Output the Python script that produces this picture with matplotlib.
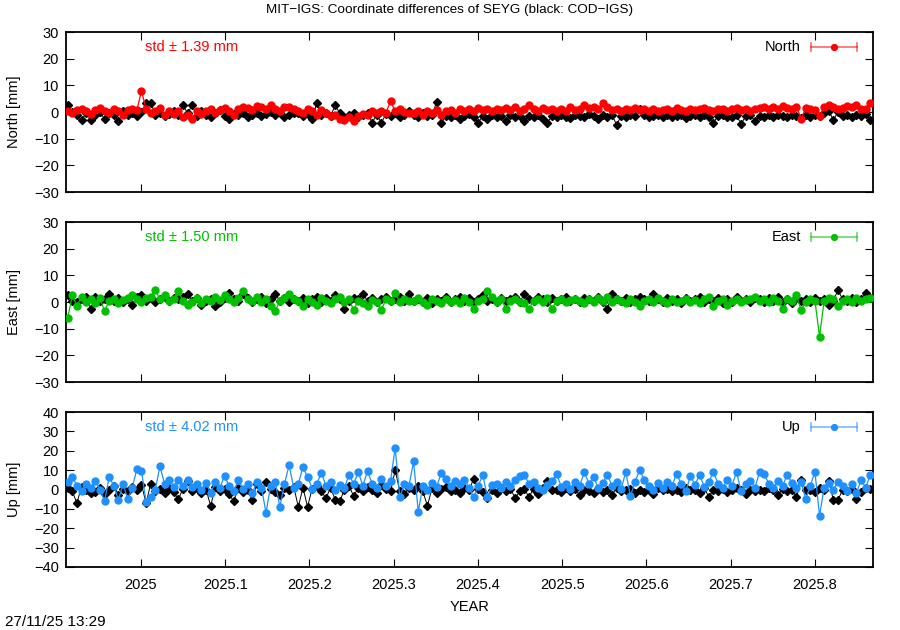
import numpy as np
import matplotlib
matplotlib.use("Agg")
import matplotlib.pyplot as plt
from matplotlib.lines import Line2D

plt.rcParams['font.family'] = ['Liberation Sans', 'DejaVu Sans']

# ---------------- data ----------------
t_start = 2024.913
t_step = 2 / 365.25
n_pts = 175
years = t_start + t_step * np.arange(n_pts)

north_mit = [
    0.5, -0.5, 0.8, 1.2, 0.3, -0.8, 0.6, 1.5, 0.2, -0.5, 1.0, 0.4, -1.0, 0.8, 1.2, 0.6, 8.0, 1.0, -0.5, 0.3, 1.5, -1.2, 0.4, -0.8, 0.2,
    -2.0, -1.0, -2.5, 0.5, -0.8, 0.3, 1.0, -0.5, 0.8, 1.5, 0.5, -1.0, 1.2, 2.0, 1.5, 0.8, 2.2, 1.8, 1.0, 2.5, 1.2, 0.5, 1.8, 2.0, 1.0,
    0.5, -0.5, 1.0, 0.2, -1.0, 0.8, -0.5, -1.5, -1.0, -2.5, -3.0, -2.0, -3.2, -1.5, -0.8, -1.2, 0.3, -0.5, 0.5, -0.2, 4.0, 0.3, 1.0, 0.0, -0.5,
    -0.5, 0.3, -1.0, 0.5, -0.3, 0.8, -1.2, 0.2, 0.6, -0.5, 1.0, 0.4, 1.2, 0.5, 1.5, 0.8, 1.0, 0.3, 1.2, 0.6, 1.5, 0.9, 2.0, 0.5, 1.2,
    2.5, 1.0, 0.5, 1.5, 0.8, 1.2, 0.3, 1.0, 0.5, 1.8, 0.6, 1.0, 2.5, 1.5, 2.0, 1.2, 3.5, 1.8, 0.8, 1.2, 0.5, 1.0, 0.8, 1.5, 0.6,
    1.0, 0.5, 1.2, 0.3, 0.8, 1.0, 0.5, 1.5, 0.8, 0.4, 1.2, 0.6, 1.0, 1.5, 0.8, 0.5, 1.2, 1.0, 0.3, 1.0, 1.5, 0.8, 1.2, 0.5, 1.0,
    1.5, 2.0, 1.0, 1.8, 1.2, 2.2, 1.5, 1.0, 2.0, -2.5, 1.5, 1.2, 0.8, -1.5, 1.8, 2.5, 2.0, 1.0, 1.5, 2.2, 1.8, 2.5, 1.2, 1.0, 3.5,
]
north_cod = [
    2.5, 0.0, -1.0, -3.0, -0.5, -3.0, -1.0, 0.0, -2.7, -0.5, -1.2, -3.5, 0.2, -1.0, -0.5, -1.5, 0.0, 3.5, 3.5, -1.0, -0.3, -1.5, -0.8, 0.5, -1.0,
    2.5, -0.5, 2.5, -1.5, 0.5, -1.0, -2.0, -0.5, 0.8, -1.5, -2.7, -0.8, -1.2, -0.5, -2.0, -1.0, -0.3, -1.5, -0.8, 0.0, -1.2, -0.5, -2.0, -1.0, -0.5,
    -0.5, -1.5, -0.8, -2.7, 3.5, -1.0, -0.3, -1.5, 2.5, -0.5, -1.8, -1.0, -0.5, -2.0, -1.2, -0.5, -4.0, -1.0, -4.0, -0.8, -1.5, -0.3, -2.0, -1.0, 0.3,
    -1.0, -2.0, -0.5, -1.5, -1.0, 3.8, -4.0, -1.5, -2.0, -1.0, -2.5, -1.5, -0.8, -2.0, -4.0, -1.5, -2.5, -1.0, -2.0, -1.5, -3.5, -1.0, -2.0, -1.5, -3.5,
    -1.5, -2.0, -1.0, -2.5, -4.0, -1.5, -2.0, -1.0, -1.8, -2.2, -1.0, -1.5, -2.0, -0.8, -1.5, -2.5, -1.2, -1.8, -1.0, -4.8, -1.5, -2.0, -1.0, -1.5, 1.0,
    -1.0, -2.0, -1.5, -1.0, -1.8, -1.2, -2.0, -1.5, -1.0, -2.2, -1.5, -1.0, -1.8, -1.2, -2.0, -4.0, -1.5, -1.0, -1.8, -2.0, -1.2, -4.5, -1.5, -1.0, -3.5,
    -1.5, -2.0, -1.0, -1.8, -1.2, -1.5, -2.0, -1.0, -1.5, -2.2, -1.0, -1.8, -1.2, -1.5, -0.5, 0.5, -3.0, 0.0, -1.5, -1.0, -2.0, -1.2, -1.5, -0.8, -3.0,
]
east_mit = [
    -6.0, 2.5, -1.5, 2.0, 0.0, 1.0, -0.5, 1.5, -3.5, 0.5, 1.0, -0.5, 0.8, 1.5, 2.5, 1.0, 0.0, 1.5, 2.0, 4.5, 1.0, 2.5, 0.5, 1.2, 4.0,
    0.5, -1.0, 0.0, 1.5, -0.5, 1.0, 0.5, 2.0, 0.8, 2.5, 1.0, 0.0, 1.5, 4.0, 1.2, 0.5, 1.8, 0.0, 1.0, -1.5, -3.5, 0.5, 1.5, 3.0, 1.2,
    0.5, -1.5, 1.0, 0.0, -1.0, 1.5, 0.5, -0.5, 1.0, 2.0, 0.0, 1.0, -3.0, 0.5, -0.5, -1.5, 0.8, 0.0, -3.0, 1.0, 0.5, 3.5, 0.0, 1.2, 0.5,
    0.5, 1.5, 0.0, -1.0, 1.0, 0.5, -0.5, 1.2, 0.0, 0.8, -0.5, 1.5, 0.0, -2.5, 0.5, 1.0, 4.0, 2.0, 0.0, 1.0, -2.5, 0.5, 1.0, 0.0, -0.5,
    -2.5, 0.5, 1.0, 0.0, 1.5, -2.5, 0.5, 1.0, 0.0, 0.8, 1.2, 0.5, -0.5, 1.0, 0.0, 1.5, 0.5, 2.0, 0.0, 1.0, 0.5, -0.5, 1.0, 0.0, -1.5,
    0.5, 1.0, 0.0, 1.5, 0.5, -0.5, 1.0, 0.0, 0.5, 1.2, 0.0, 0.8, -0.5, 1.0, 2.0, -1.5, 0.5, 1.0, -1.0, 0.5, 1.0, 0.0, 0.8, 1.0, 2.0,
    0.5, 1.0, 0.0, 1.5, 0.5, -2.5, 1.0, 0.5, 2.5, -3.0, 0.0, 1.0, 0.5, -13.0, 0.5, 1.5, 1.0, -1.5, 0.5, 1.0, 0.0, 1.5, 0.5, 1.0, 1.5,
]
east_cod = [
    2.5, 0.5, 0.0, 1.0, 2.0, -2.5, 2.0, 0.5, 1.0, 3.0, 0.5, 1.5, 0.0, 1.0, -1.0, 2.0, 2.5, 0.5, 1.5, 0.0, 1.0, 2.0, 0.5, 1.5, 1.0,
    2.0, 3.0, 0.5, 1.5, -1.0, 0.5, 1.0, -1.5, 0.0, 1.5, 3.5, 1.0, 0.5, 3.0, 1.5, 0.0, 1.0, 2.0, -0.5, 1.0, 3.0, 0.5, 1.5, 0.0, 1.0,
    0.5, 1.5, -0.5, 1.0, 2.0, 0.0, 1.5, 0.5, 2.5, 1.0, -2.5, 0.5, 1.5, 1.0, 3.0, 0.5, 1.5, 0.0, 1.0, 2.0, 0.5, 1.0, 2.0, 0.5, 3.0,
    0.5, 1.0, 0.0, 1.5, -0.5, 1.0, 0.5, 2.0, 0.0, 1.0, 2.0, 0.5, 1.5, 0.0, 1.0, 2.5, 0.5, 1.0, 0.0, 1.5, 0.5, 1.0, 2.0, 0.0, 3.0,
    1.0, 0.5, 2.0, 1.0, 0.0, 1.5, 0.5, 1.0, 2.0, 0.5, 1.0, 0.0, 1.5, 1.0, 0.5, 2.0, 0.0, -2.5, 3.0, 1.0, 0.5, 1.5, 0.0, 1.0, 2.0,
    1.0, 0.5, 3.0, 1.0, 0.0, 1.5, 0.5, 1.0, -0.5, 1.5, 0.5, 1.0, 2.0, 0.0, 1.0, 0.5, 1.5, -0.5, 1.0, 0.0, 2.0, 0.5, 1.0, 0.0, 1.5,
    1.0, 0.0, 1.5, 0.5, 2.0, 0.0, 1.0, -0.5, 1.5, 0.5, 1.0, 0.0, 1.5, 0.5, 1.0, -1.0, 0.5, 4.5, 1.0, 0.5, 1.5, 0.0, 1.0, 3.5, 1.5,
]
up_mit = [
    4.0, 6.5, 2.0, -1.0, 3.0, 1.0, 4.5, 0.0, -6.0, 6.5, 2.0, -5.5, 3.0, -5.0, 1.0, 10.5, 9.5, -6.5, -4.0, 0.0, 12.0, 3.0, 5.0, 1.5, 5.0,
    2.0, 5.0, 1.5, 3.0, 0.0, 3.5, -2.0, 4.0, 1.0, 7.0, 2.0, -1.0, 5.0, 0.5, 3.0, -2.0, 4.0, 1.0, -12.0, 2.0, 4.0, -9.0, 3.0, 12.5, 1.0,
    3.0, 11.5, 6.5, 0.5, 3.0, 8.5, 2.0, 4.0, 0.0, 2.5, 1.0, 7.5, 3.0, 9.0, 2.0, 9.5, 3.0, 1.0, 5.5, 2.0, 4.5, 21.5, -4.0, 3.0, 2.0,
    14.5, -11.5, 2.0, 0.0, 3.5, 1.5, 8.5, 5.5, 2.0, 4.5, 3.0, 5.0, 1.0, -4.0, 2.0, 7.5, -4.0, 2.5, 3.0, 1.0, 4.0, 2.0, 5.0, 7.0, 7.5,
    3.0, 4.0, 1.0, 0.0, 2.5, 4.5, 8.0, 1.5, 3.0, 0.5, 4.0, 2.0, 9.0, 3.0, 6.5, 1.0, 3.5, 7.5, 2.0, 4.0, 0.5, 9.0, -3.5, 4.0, 10.0,
    5.0, 2.0, 0.0, 3.5, 1.0, 4.0, 2.0, 8.0, 3.0, -1.0, 7.0, 2.5, 7.5, 1.5, 4.0, 9.0, 3.0, 1.0, 5.0, 2.0, 9.0, -1.0, 3.0, 4.5, 1.0,
    9.0, 8.0, 3.0, 1.0, 4.5, 2.0, 7.5, 3.5, 1.0, 4.0, -5.0, 2.0, 9.0, -13.5, 1.0, 3.5, 0.0, 4.0, 2.0, -1.0, 3.0, -2.0, 5.0, 1.0, 7.5,
]
up_cod = [
    1.0, -1.0, -7.0, 1.5, 0.0, -2.0, -1.5, 1.0, -2.5, 0.0, 2.0, -2.8, 0.5, -1.0, 1.5, -0.5, 2.5, -7.0, 3.0, -1.0, 0.5, -2.0, 1.0, -1.5, -5.0,
    0.5, 4.5, -1.0, 1.0, -2.0, 0.0, -8.5, 1.5, -1.0, 0.5, -2.5, -6.0, 1.0, -1.5, 0.0, -5.5, 3.0, -1.0, 4.0, 0.5, -1.5, -3.0, 1.0, -0.5, 1.5,
    -9.0, 1.0, -9.0, 0.5, 2.0, -1.0, -4.5, 1.0, -5.5, -6.0, 0.0, 2.0, -3.5, 1.0, -1.0, 1.5, 0.0, -2.0, 2.5, 0.5, -1.0, 10.0, -1.0, -2.5, 1.0,
    0.0, 2.0, -1.0, -8.5, 1.0, -2.0, 0.5, 1.5, -1.0, 0.0, -2.0, 1.0, -0.5, 5.5, 0.5, -1.5, -4.5, 0.0, -2.0, 1.0, -1.0, 0.5, -4.5, -1.0, 0.5,
    -4.0, 0.5, -2.5, 1.0, 4.5, -0.5, 0.0, -1.5, 1.0, -1.0, 0.5, -3.0, 0.0, -1.0, -2.0, 0.5, -1.5, 0.0, -3.0, 1.0, -1.0, -0.5, 0.5, -2.0, 0.0,
    -1.5, 0.0, -2.5, 1.0, -0.5, 0.5, -1.0, 0.0, -1.5, 1.0, -0.5, 0.0, -2.0, 1.0, -4.0, 0.0, -1.0, 0.5, -1.5, 0.0, 1.0, -0.5, -2.5, 0.0, -1.0,
    0.0, -1.0, 1.0, 0.0, -3.0, 0.5, -1.0, 0.0, -4.0, 5.0, -0.5, 0.0, -1.5, 1.0, 0.0, 4.5, -5.5, -5.5, 0.0, -1.0, 0.5, -5.0, -1.5, 1.0, 0.5,
]

components = ["North", "East", "Up"]
std_texts = ["std \u00b1 1.39 mm", "std \u00b1 1.50 mm", "std \u00b1 4.02 mm"]
colors = ["#ff0000", "#00c000", "#1e90ff"]
ylims = [(-30, 30), (-30, 30), (-40, 40)]
yticks_list = [np.arange(-30, 31, 10), np.arange(-30, 31, 10), np.arange(-40, 41, 10)]
mit_series = [north_mit, east_mit, up_mit]
cod_series = [north_cod, east_cod, up_cod]
xticks = [2025.0, 2025.1, 2025.2, 2025.3, 2025.4, 2025.5, 2025.6, 2025.7, 2025.8]
xtick_labels = ["2025", "2025.1", "2025.2", "2025.3", "2025.4", "2025.5", "2025.6", "2025.7", "2025.8"]
xlim = (2024.911, 2025.869)

# ---------------- figure ----------------
fig = plt.figure(figsize=(9, 6.3), dpi=100)
W, H = 900, 630
boxes = [(32, 192), (222, 382), (412, 567)]
left_px, right_px = 66, 873
FS = 10.5

fig.text(0.5, 1 - 10 / H, "MIT\u2212IGS: Coordinate differences of SEYG (black: COD\u2212IGS)",
         ha="center", va="center", fontsize=9.7)

for k in range(3):
    top, bot = boxes[k]
    ax = fig.add_axes([left_px / W, 1 - bot / H, (right_px - left_px) / W, (bot - top) / H])
    ax.plot(years, cod_series[k], color="black", lw=0.7, marker="D", ms=4.4,
            mfc="black", mec="black", zorder=2)
    ax.plot(years, mit_series[k], color=colors[k], lw=0.9, marker="o", ms=5.0,
            mfc=colors[k], mec=colors[k], zorder=3)
    ax.set_xlim(*xlim)
    ax.set_ylim(*ylims[k])
    ax.set_yticks(yticks_list[k])
    ax.set_xticks(xticks)
    if k == 2:
        ax.set_xticklabels(xtick_labels)
        ax.set_xlabel("YEAR", fontsize=FS, labelpad=6)
    else:
        ax.set_xticklabels([])
    ax.tick_params(axis="both", direction="in", length=6, width=0.8, labelsize=FS,
                   top=True, right=True, pad=5)
    ax.tick_params(axis="x", pad=8)
    for sp in ax.spines.values():
        sp.set_linewidth(1.3)
    ax.set_ylabel(f"{components[k]} [mm]", fontsize=FS)
    ax.yaxis.set_label_coords(-45 / (right_px - left_px), 0.5)

    # std annotation
    yk = 1 - 15 / (bot - top)
    ax.text((145 - left_px) / (right_px - left_px), yk, std_texts[k],
            transform=ax.transAxes, color=colors[k], fontsize=FS, ha="left", va="center")
    # key
    ax.text((801 - left_px) / (right_px - left_px), yk, components[k],
            transform=ax.transAxes, fontsize=FS, ha="right", va="center")
    x0 = (811 - left_px) / (right_px - left_px)
    x1 = (857 - left_px) / (right_px - left_px)
    xm = (x0 + x1) / 2
    cap = 4 / (bot - top)
    ax.add_line(Line2D([x0, x1], [yk, yk], transform=ax.transAxes, color=colors[k], lw=1.2, alpha=0.6))
    ax.add_line(Line2D([x0, x0], [yk - cap, yk + cap], transform=ax.transAxes, color=colors[k], lw=1.2, alpha=0.6))
    ax.add_line(Line2D([x1, x1], [yk - cap, yk + cap], transform=ax.transAxes, color=colors[k], lw=1.2, alpha=0.6))
    ax.add_line(Line2D([xm], [yk], transform=ax.transAxes, color=colors[k], marker="o", ms=4.2, lw=0))

fig.text(5 / W, 1 - 622 / H, "27/11/25 13:29", ha="left", va="center", fontsize=11)

fig.savefig("out.png", dpi=100)
